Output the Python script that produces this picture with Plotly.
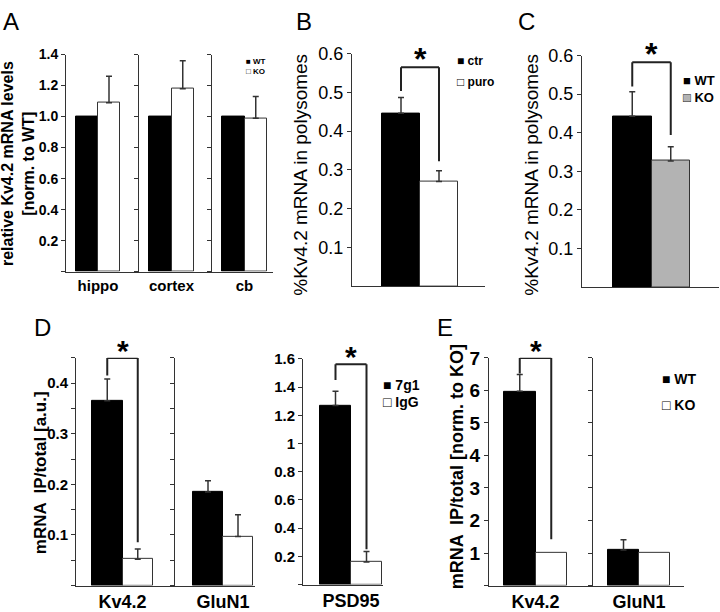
import plotly.graph_objects as go

# ------------------------------------------------------------------ data
A_regions = ['hippo', 'cortex', 'cb']
A_wt = [1.0, 1.0, 1.0]
A_ko = [1.09, 1.18, 0.99]
A_ko_err = [0.17, 0.18, 0.14]
A_yticks = [0, 0.2, 0.4, 0.6, 0.8, 1.0, 1.2, 1.4]

B_group = ['Kv4.2']
B_ctr = [0.446]
B_ctr_err = [0.041]
B_puro = [0.27]
B_puro_err = [0.028]
BC_yticks = [0.1, 0.2, 0.3, 0.4, 0.5, 0.6]

C_group = ['Kv4.2']
C_wt = [0.443]
C_wt_err = [0.063]
C_ko = [0.327]
C_ko_err = [0.037]

D_genes = ['Kv4.2', 'GluN1', 'PSD95']
D_7g1 = [0.365, 0.185, 1.27]
D_7g1_err = [0.043, 0.022, 0.10]
D_igg = [0.052, 0.097, 0.16]
D_igg_err = [0.02, 0.043, 0.075]
D_yticks_small = [0, 0.05, 0.1, 0.15, 0.2, 0.25, 0.3, 0.35, 0.4, 0.45]
D_yticks_small_labels = ['', '', '0.1', '', '0.2', '', '0.3', '', '0.4', '']
D_yticks_big = [0, 0.2, 0.4, 0.6, 0.8, 1.0, 1.2, 1.4, 1.6]

E_genes = ['Kv4.2', 'GluN1']
E_wt = [5.97, 1.09]
E_wt_err = [0.52, 0.32]
E_ko = [1.0, 1.0]
E_yticks = [0, 1, 2, 3, 4, 5, 6, 7]

# ------------------------------------------------------------------ style
W, H = 720, 612
FONT = 'Liberation Sans, Arial, sans-serif'
AX = '#333333'
BLACK, WHITE, GREY = '#000000', '#ffffff', '#b3b3b3'

fig = go.Figure()
layout = dict(width=W, height=H, margin=dict(l=0, r=0, t=0, b=0),
              paper_bgcolor='white', plot_bgcolor='white',
              barmode='group', bargap=0, bargroupgap=0, showlegend=False,
              font=dict(family=FONT, color='#000000'))
shapes, annotations = [], []
counter = [0]


def fnt(size, bold=False):
    return dict(family=FONT, size=size, color='#000000', weight='bold' if bold else 'normal')


def new_axes(L, R, gL, gR, ybot, ytop, yrange, yticks, yticktext, tickfont,
             xfont=None, show_x=True):
    counter[0] += 1
    n = counter[0]
    s = gR - gL
    r0 = -0.5 - (gL - L) / s
    r1 = 0.5 + (R - gR) / s
    xa = 'xaxis' if n == 1 else f'xaxis{n}'
    ya = 'yaxis' if n == 1 else f'yaxis{n}'
    xr = 'x' if n == 1 else f'x{n}'
    yr = 'y' if n == 1 else f'y{n}'
    layout[xa] = dict(domain=[L / W, R / W], anchor=yr, type='category', range=[r0, r1],
                      showline=True, linecolor=AX, linewidth=1, ticks='', showgrid=False,
                      zeroline=False, showticklabels=show_x, tickfont=xfont or fnt(10),
                      fixedrange=True)
    layout[ya] = dict(domain=[1 - ybot / H, 1 - ytop / H], anchor=xr, range=yrange,
                      showline=True, linecolor=AX, linewidth=1, ticks='outside', ticklen=4,
                      tickwidth=1, tickcolor=AX, tickmode='array', tickvals=yticks,
                      ticktext=yticktext, showgrid=False, zeroline=False,
                      tickfont=tickfont, fixedrange=True)
    return xr, yr


def err(arr):
    return dict(type='data', array=arr, arrayminus=[0] * len(arr), symmetric=False,
                color=AX, thickness=1.5, width=3, visible=True)


def bar(x, y, xr, yr, fill, e=None):
    line = BLACK if fill == BLACK else AX
    fig.add_trace(go.Bar(x=x, y=y, xaxis=xr, yaxis=yr,
                         marker=dict(color=fill, line=dict(color=line, width=1)),
                         error_y=err(e) if e else None, showlegend=False,
                         hoverinfo='skip'))


def bracket(xr, yr, left_top, right_top, rng, pads, star_size):
    top = min(left_top + pads[0] * rng, rng * 0.999)
    yl = left_top + pads[1] * rng
    yrr = right_top + pads[2] * rng
    ln = dict(color='#222222', width=2)
    shapes.append(dict(type='line', xref=xr, yref=yr, x0=-0.25, x1=-0.25, y0=yl, y1=top, line=ln))
    shapes.append(dict(type='line', xref=xr, yref=yr, x0=-0.25, x1=0.25, y0=top, y1=top, line=ln))
    shapes.append(dict(type='line', xref=xr, yref=yr, x0=0.25, x1=0.25, y0=top, y1=yrr, line=ln))
    annotations.append(dict(xref=xr, yref=yr, x=0, y=top, text='*', showarrow=False,
                            yanchor='bottom', xanchor='center', yshift=-0.37 * star_size,
                            font=fnt(star_size, True)))


def text(x, y, t, size, bold=False, angle=0, xanchor='center'):
    annotations.append(dict(xref='paper', yref='paper', x=x / W, y=1 - y / H, text=t,
                            showarrow=False, textangle=angle, xanchor=xanchor,
                            yanchor='middle', font=fnt(size, bold)))


def legend_item(x, y, fill, name, size):
    if fill == BLACK:
        text(x, y, '■ ' + name, size, True, xanchor='left')
    elif fill == WHITE:
        text(x, y, '□ ' + name, size, True, xanchor='left')
    else:
        text(x, y, f"<span style='color:{fill}'>■</span> " + name, size, True, xanchor='left')
        text(x, y, '□', size, True, xanchor='left')


def lab(vals, fmt):
    return ['' if v == 0 else fmt(v) for v in vals]


# ------------------------------------------------------------------ panel A
geomA = [(66, 139, 76, 120), (139, 212, 149, 194), (212, 273, 222, 267)]
for i, reg in enumerate(A_regions):
    L, R, gL, gR = geomA[i]
    xr, yr = new_axes(L, R, gL, gR, 270, 46, [0, 1.4], A_yticks,
                      lab(A_yticks, lambda v: f'{v:.1f}') if i == 0 else [''] * len(A_yticks),
                      fnt(14, True), fnt(15, True))
    bar([reg], [A_wt[i]], xr, yr, BLACK)
    bar([reg], [A_ko[i]], xr, yr, WHITE, [A_ko_err[i]])

text(18, 159, 'relative Kv4.2 mRNA levels<br>[norm. to WT]', 16, True, -90)
legend_item(244, 53, BLACK, 'WT', 8)
legend_item(244, 63, WHITE, 'KO', 8)

# ------------------------------------------------------------------ panel B
xr, yr = new_axes(352, 485, 382, 458, 285, 45, [0, 0.6], BC_yticks,
                  [f'{v:.1f}' for v in BC_yticks], fnt(18), show_x=False)
bar(B_group, B_ctr, xr, yr, BLACK, B_ctr_err)
bar(B_group, B_puro, xr, yr, WHITE, B_puro_err)
bracket(xr, yr, B_ctr[0] + B_ctr_err[0], B_puro[0] + B_puro_err[0], 0.6,
        (0.13, 0.028, 0.04), 32)
text(301, 170, '%Kv4.2 mRNA in polysomes', 19, False, -90)
legend_item(455, 53, BLACK, 'ctr', 12)
legend_item(455, 74, WHITE, 'puro', 12)

# ------------------------------------------------------------------ panel C
xr, yr = new_axes(582, 719, 613, 690, 286, 47, [0, 0.6], BC_yticks,
                  [f'{v:.1f}' for v in BC_yticks], fnt(18), show_x=False)
bar(C_group, C_wt, xr, yr, BLACK, C_wt_err)
bar(C_group, C_ko, xr, yr, GREY, C_ko_err)
bracket(xr, yr, C_wt[0] + C_wt_err[0], C_ko[0] + C_ko_err[0], 0.6,
        (0.128, 0.023, 0.05), 32)
text(532, 170, '%Kv4.2 mRNA in polysomes', 19, False, -90)
legend_item(681, 73, BLACK, 'WT', 13)
legend_item(681, 90, GREY, 'KO', 13)

# ------------------------------------------------------------------ panel D
geomD = [(76, 175, 92, 153, 594, 359, [0, 0.45]),
         (175, 255, 193, 253, 594, 359, [0, 0.45]),
         (303, 383, 320, 382, 593, 360, [0, 1.6])]
D_pads = [(0.093, 0.016, 0.03), None, (0.12, 0.05, 0.01)]
for i, g in enumerate(D_genes):
    L, R, gL, gR, yb, yt, rng = geomD[i]
    if i == 0:
        tv, tt = D_yticks_small, D_yticks_small_labels
    elif i == 1:
        tv, tt = D_yticks_small, [''] * len(D_yticks_small)
    else:
        tv, tt = D_yticks_big, lab(D_yticks_big, lambda v: f'{v:g}')
    xr, yr = new_axes(L, R, gL, gR, yb, yt, rng, tv, tt, fnt(15, True), fnt(18, True))
    bar([g], [D_7g1[i]], xr, yr, BLACK, [D_7g1_err[i]])
    bar([g], [D_igg[i]], xr, yr, WHITE, [D_igg_err[i]])
    if D_pads[i]:
        bracket(xr, yr, D_7g1[i] + D_7g1_err[i], D_igg[i] + D_igg_err[i], rng[1],
                D_pads[i], 30)

text(40, 478, 'mRNA  IP/total [a.u.]', 17, True, -90)
legend_item(381, 387, BLACK, '7g1', 14)
legend_item(381, 405, WHITE, 'IgG', 14)

# ------------------------------------------------------------------ panel E
geomE = [(489, 593, 504, 567), (593, 684, 608, 670)]
for i, g in enumerate(E_genes):
    L, R, gL, gR = geomE[i]
    xr, yr = new_axes(L, R, gL, gR, 594, 359, [0, 7], E_yticks,
                      lab(E_yticks, lambda v: f'{v:g}') if i == 0 else [''] * len(E_yticks),
                      fnt(19, True), fnt(18, True))
    bar([g], [E_wt[i]], xr, yr, BLACK, [E_wt_err[i]])
    bar([g], [E_ko[i]], xr, yr, WHITE)
    if i == 0:
        bracket(xr, yr, E_wt[i] + E_wt_err[i], E_ko[i], 7, (0.073, 0.004, 0.061), 30)

text(457, 472, 'mRNA  IP/total [norm. to KO]', 18, True, -90)
legend_item(660, 381, BLACK, 'WT', 14)
legend_item(660, 408, WHITE, 'KO', 14)

# ------------------------------------------------------------------ panel letters
for letter, x, y in [('A', 11, 12), ('B', 304, 12), ('C', 526, 12), ('D', 42, 328), ('E', 445, 328)]:
    text(x, y, letter, 24)

layout['shapes'] = shapes
layout['annotations'] = annotations
fig.update_layout(**layout)
fig.write_html('out.html', config={'displayModeBar': False},
               post_script="document.body.style.margin='0';document.body.style.overflow='hidden';")
